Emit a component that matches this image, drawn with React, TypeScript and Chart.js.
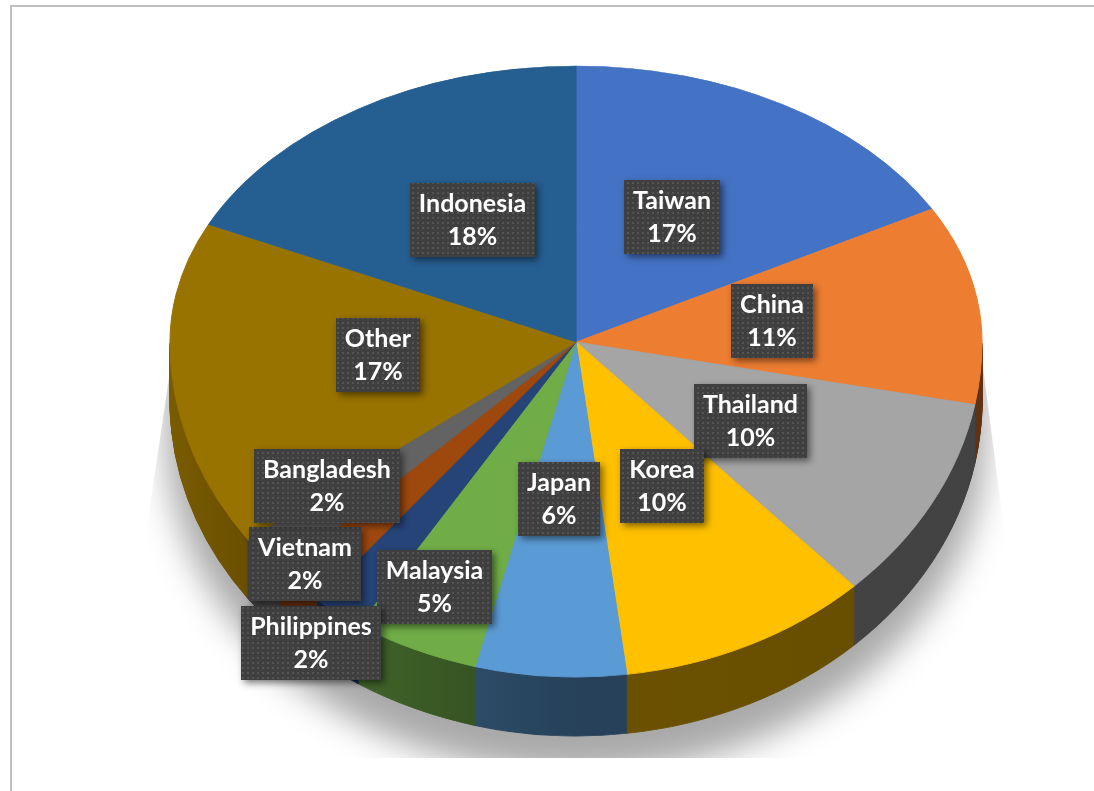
import React, { useEffect, useRef } from 'react';
import { Chart, registerables } from 'chart.js';

Chart.register(...registerables);

// ---- data ----
const categories = ['Taiwan', 'China', 'Thailand', 'Korea', 'Japan', 'Malaysia', 'Philippines', 'Vietnam', 'Bangladesh', 'Other', 'Indonesia'];
const shares = [17, 11, 10, 10, 6, 5, 2, 2, 2, 17, 18];
const sliceColors = ['#4472C4', '#ED7D31', '#A5A5A5', '#FFC000', '#5B9BD5', '#70AD47', '#264478', '#9E480E', '#636363', '#997300', '#255E91'];
// data-label placement: radial fraction of the pie radius and a small angular nudge (degrees) from the slice's mid angle
const labelRadius = [0.51, 0.49, 0.49, 0.48, 0.47, 0.81, 1.11, 0.94, 0.75, 0.49, 0.51];
const labelNudge = [-3, 0, 0, -1, 1.5, 2, 0, 2, 4.5, 1, 2.5];

// ---- layout ----
const W = 1094;
const H = 791;
const CX = 576;
const CY = 342;
const RX = 406;
const RY_TOP = 276;
const RY_BOT = 335;
const DEPTH = 59;
const FONT = 'bold 25px Lato, "Open Sans", sans-serif';

function rgb(hex: string) {
  const n = parseInt(hex.slice(1), 16);
  return [(n >> 16) & 255, (n >> 8) & 255, n & 255];
}
function shade(hex: string, f: number) {
  const [r, g, b] = rgb(hex);
  return `rgb(${Math.round(r * f)},${Math.round(g * f)},${Math.round(b * f)})`;
}

let dotPattern: CanvasPattern | null = null;
function getPattern(ctx: CanvasRenderingContext2D) {
  if (dotPattern) return dotPattern;
  const c = document.createElement('canvas');
  c.width = 5;
  c.height = 5;
  const p = c.getContext('2d')!;
  p.fillStyle = '#3f3f3f';
  p.fillRect(0, 0, 5, 5);
  p.fillStyle = '#545454';
  p.fillRect(2, 2, 2, 2);
  dotPattern = ctx.createPattern(c, 'repeat');
  return dotPattern;
}

function silhouette(ctx: CanvasRenderingContext2D, ox: number, oy: number, grow: number) {
  ctx.beginPath();
  ctx.ellipse(CX + ox, CY + oy, RX + grow, RY_TOP + grow, 0, Math.PI, 2 * Math.PI);
  ctx.lineTo(CX + ox + RX + grow, CY + oy + DEPTH);
  ctx.ellipse(CX + ox, CY + oy + DEPTH, RX + grow, RY_BOT + grow, 0, 0, Math.PI);
  ctx.closePath();
}

const framePlugin = {
  id: 'frame',
  beforeDraw(chart: any) {
    const ctx = chart.ctx as CanvasRenderingContext2D;
    ctx.save();
    ctx.fillStyle = '#ffffff';
    ctx.fillRect(0, 0, W, H);
    ctx.fillStyle = '#c0c0c0';
    ctx.fillRect(10, 5, 2, H - 5);
    ctx.fillRect(10, 5, W - 10, 2);
    ctx.restore();
  },
};

const pie3dPlugin = {
  id: 'pie3d',
  beforeDatasetsDraw(chart: any) {
    const ctx = chart.ctx as CanvasRenderingContext2D;
    const arcs = chart.getDatasetMeta(0).data as any[];
    if (!arcs.length) return false;
    const ox = arcs[0].x;
    const oy = arcs[0].y;
    const R = arcs[0].outerRadius;
    const s = RX / R;
    const toUserX = (X: number) => ox + (X - CX) / s;

    const drawArc = (arc: any, fill: any) => {
      const fake = Object.create(arc);
      fake.options = { ...arc.options, backgroundColor: fill, borderColor: fill };
      arc.draw.call(fake, ctx);
    };

    const pass = (dy: number, ry: number, clipTop: number, clipBottom: number, fills: any[]) => {
      ctx.save();
      ctx.beginPath();
      ctx.rect(0, clipTop, W, clipBottom - clipTop);
      ctx.clip();
      ctx.translate(CX, CY + dy);
      ctx.scale(s, (s * ry) / RX);
      ctx.translate(-ox, -oy);
      arcs.forEach((arc, i) => drawArc(arc, fills[i]));
      ctx.restore();
    };

    // soft shadow
    ctx.save();
    ctx.beginPath();
    ctx.moveTo(182, 290);
    ctx.lineTo(142, 560);
    ctx.lineTo(142, 758);
    ctx.lineTo(1008, 758);
    ctx.lineTo(1008, 560);
    ctx.lineTo(973, 290);
    ctx.closePath();
    ctx.clip();
    ctx.shadowColor = 'rgba(0,0,0,0.34)';
    ctx.shadowBlur = 34;
    ctx.shadowOffsetX = 6000;
    ctx.shadowOffsetY = 34;
    ctx.fillStyle = '#000';
    ctx.translate(-6000, 0);
    silhouette(ctx, 0, 0, 4);
    ctx.fill();
    ctx.restore();

    // sides (lit from the left)
    const stops: [number, number][] = [
      [150, 0.82],
      [300, 0.62],
      [450, 0.5],
      [576, 0.42],
      [1000, 0.4],
    ];
    const sideFills = sliceColors.map((c) => {
      const g = ctx.createLinearGradient(toUserX(150), 0, toUserX(1000), 0);
      stops.forEach(([X, f]) => g.addColorStop((X - 150) / 850, shade(c, f)));
      return g;
    });
    for (let d = DEPTH; d >= 1; d--) {
      pass(d, RY_BOT, CY + d, H, sideFills);
    }

    // top face: upper and lower halves with different vertical radii (perspective)
    pass(0, RY_TOP, 0, CY, sliceColors);
    pass(0, RY_BOT, CY, H, sliceColors);

    // data labels
    const total = shares.reduce((a, b) => a + b, 0);
    ctx.save();
    ctx.font = FONT;
    ctx.textAlign = 'center';
    ctx.textBaseline = 'middle';
    arcs.forEach((arc, i) => {
      const mid = (arc.startAngle + arc.endAngle) / 2 + (labelNudge[i] * Math.PI) / 180;
      const nx = Math.cos(mid) * labelRadius[i];
      const ny = Math.sin(mid) * labelRadius[i];
      const X = CX + nx * RX;
      const Y = CY + ny * (ny < 0 ? RY_TOP : RY_BOT);
      const l1 = categories[i];
      const l2 = `${Math.round((shares[i] / total) * 100)}%`;
      const tw = Math.max(ctx.measureText(l1).width, ctx.measureText(l2).width);
      const bw = Math.round(tw + 18);
      const bh = 74;
      const bx = Math.round(X - bw / 2);
      const by = Math.round(Y - bh / 2);
      ctx.save();
      ctx.shadowColor = 'rgba(0,0,0,0.5)';
      ctx.shadowBlur = 7;
      ctx.shadowOffsetX = 3;
      ctx.shadowOffsetY = 3;
      ctx.fillStyle = getPattern(ctx) || '#404040';
      ctx.fillRect(bx, by, bw, bh);
      ctx.restore();
      ctx.fillStyle = '#ffffff';
      ctx.fillText(l1, bx + bw / 2, by + 21);
      ctx.fillText(l2, bx + bw / 2, by + 54);
    });
    ctx.restore();
    return false;
  },
};

export default function App() {
  const ref = useRef<HTMLCanvasElement>(null);
  useEffect(() => {
    const canvas = ref.current!;
    const chart = new Chart(canvas, {
      type: 'pie',
      data: {
        labels: categories,
        datasets: [
          {
            data: shares,
            backgroundColor: sliceColors,
            borderColor: sliceColors,
            borderWidth: 1,
          },
        ],
      },
      options: {
        responsive: false,
        animation: false,
        events: [],
        layout: { padding: 0 },
        plugins: { legend: { display: false }, tooltip: { enabled: false } },
      },
      plugins: [framePlugin, pie3dPlugin],
    } as any);
    return () => chart.destroy();
  }, []);
  return (
    <div style={{ position: 'absolute', left: 0, top: 0, width: W, height: H, background: '#fff' }}>
      <canvas ref={ref} width={W} height={H} style={{ display: 'block', width: W, height: H }} />
    </div>
  );
}
